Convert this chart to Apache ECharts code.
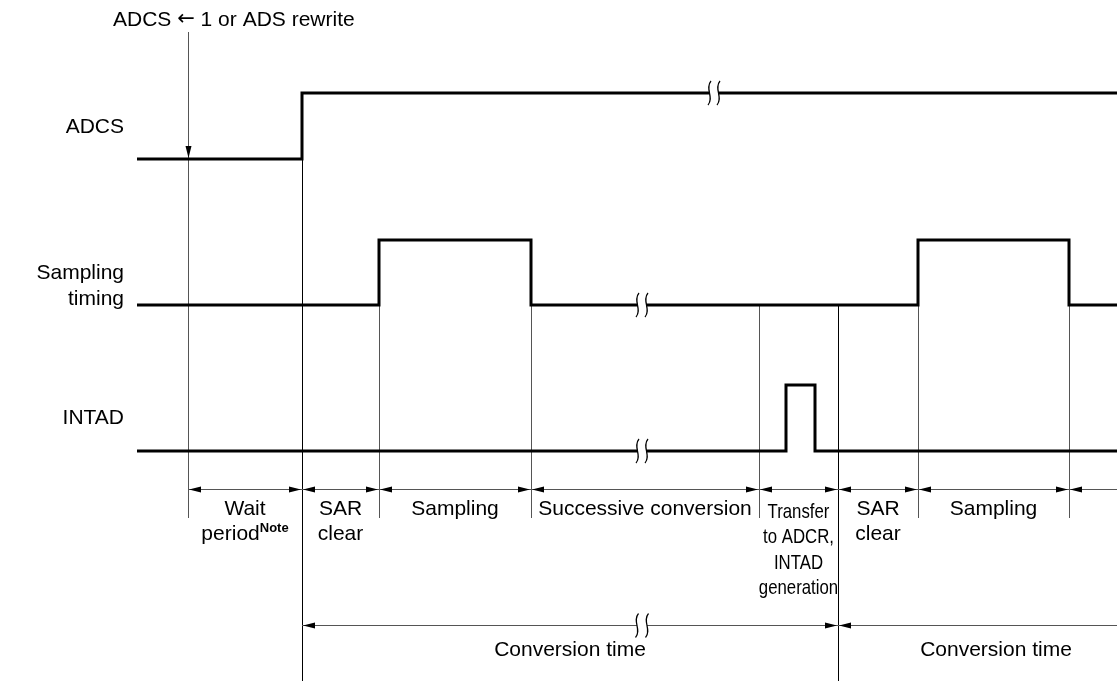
<!DOCTYPE html>
<html>
<head>
<meta charset="utf-8">
<script src="https://cdn.jsdelivr.net/npm/echarts@6/dist/echarts.min.js"></script>
<style>
html,body{margin:0;padding:0;background:#fff;}
#chart{width:1117px;height:681px;}
</style>
</head>
<body>
<div id="chart"></div>
<script>
// ---------------- data (time in arbitrary clock units) ----------------
const signalNames = ['ADCS', 'Sampling\ntiming', 'INTAD'];
const adcsTimes = [0, 16.5];
const adcsLevels = [0, 1];
const samplingTimes = [0, 24.2, 39.4, 78.1, 93.2];
const samplingLevels = [0, 1, 0, 1, 0];
const intadTimes = [0, 64.9, 67.8];
const intadLevels = [0, 1, 0];
const signalBreaks = [57.7, 50.5, 50.5];
const triggerTime = 5.1;
const triggerLabel = 'ADCS {arr|\u2190} 1 or ADS rewrite';
const phaseBounds = [5.1, 16.5, 24.2, 39.4, 62.2, 70.1, 78.1, 93.2, 101.7];
const phaseLabels = ['Wait\nperiod{sup|Note}', 'SAR\nclear', 'Sampling', 'Successive conversion',
  'Transfer\nto ADCR,\nINTAD\ngeneration', 'SAR\nclear', 'Sampling', ''];
const convBounds = [16.5, 70.1, 101.7];
const convLabels = ['Conversion time', 'Conversion time'];
const convBreak = 50.5;
const timeEnd = 98;

// ---------------- layout (pixels) ----------------
const L = {
  left: 137,
  fontFamily: '"Liberation Sans", Arial, Helvetica, sans-serif',
  fontSize: 21,
  rowLow: [159, 305, 451],
  rowAmp: [66, 65, 66],
  labelRightGap: 13,
  labelY: [127, 286, 418],
  triggerTop: 32, topLabelX: 113, topLabelY: 20,
  dimY: 489, dimBottom: 518, convY: 625, bottom: 681,
  phaseTextTop: 497, convTextY: 650, narrowScale: 0.8
};

const signals = [
  {times: adcsTimes, levels: adcsLevels},
  {times: samplingTimes, levels: samplingLevels},
  {times: intadTimes, levels: intadLevels}
];

function levelY(s, lv) { return L.rowLow[s] - lv * L.rowAmp[s]; }
function levelAt(s, t) {
  const sg = signals[s]; let lv = sg.levels[0];
  for (let i = 0; i < sg.times.length; i++) if (sg.times[i] <= t) lv = sg.levels[i];
  return lv;
}
function crisp(v) { return Math.round(v) + 0.5; }

function curve(x, cy, h) {
  return {type: 'bezierCurve',
    shape: {x1: x + 1.5, y1: cy - h, cpx1: x - 5, cpy1: cy - h * 0.35, cpx2: x + 5, cpy2: cy + h * 0.35, x2: x - 1.5, y2: cy + h},
    style: {stroke: '#000', lineWidth: 1.2, fill: 'none'}};
}
function breakMark(cx, cy, gap, h) {
  return [
    {type: 'rect', shape: {x: cx - gap / 2, y: cy - 3, width: gap, height: 6}, style: {fill: '#fff'}},
    curve(cx - gap / 2, cy, h), curve(cx + gap / 2, cy, h)
  ];
}
function arrowHead(tipX, y, dir) { // dir -1 points left, +1 points right
  const len = 12, hw = 3;
  return {type: 'polygon', shape: {points: [[tipX, y], [tipX - dir * len, y - hw], [tipX - dir * len, y + hw]]},
    style: {fill: '#000'}};
}

// extension line times
const extTimes = [];
phaseBounds.concat(convBounds).forEach(t => { if (t <= timeEnd && extTimes.indexOf(t) < 0) extTimes.push(t); });

// dimension segments
const dimSegs = [];
for (let i = 0; i < phaseLabels.length; i++) dimSegs.push({a: phaseBounds[i], b: phaseBounds[i + 1], text: phaseLabels[i], kind: 'phase'});
for (let i = 0; i < convLabels.length; i++) dimSegs.push({a: convBounds[i], b: convBounds[i + 1], text: convLabels[i], kind: 'conv'});

const chart = echarts.init(document.getElementById('chart'), null, {renderer: 'canvas'});

const option = {
  animation: false,
  grid: {left: L.left, right: 0, top: 0, bottom: 0, show: false},
  xAxis: {type: 'value', min: 0, max: timeEnd, show: false},
  yAxis: {type: 'value', min: 0, max: 681, inverse: true, show: false},
  series: [
    { // extension / boundary lines
      type: 'custom', z: 1, silent: true,
      data: extTimes.map(t => [t, 0]),
      renderItem(params, api) {
        const t = extTimes[params.dataIndex];
        const isConv = convBounds.indexOf(t) >= 0;
        let top = L.rowLow[1];
        for (let s = 0; s < signals.length; s++) {
          if (signals[s].times.indexOf(t) > 0) { top = L.rowLow[s]; break; }
        }
        if (t === triggerTime) top = L.triggerTop;
        const bot = isConv ? L.bottom : L.dimBottom;
        const p1 = api.coord([t, top]), p2 = api.coord([t, bot]);
        const x = crisp(p1[0]);
        const children = [{type: 'line', shape: {x1: x, y1: p1[1], x2: x, y2: p2[1]},
          style: {stroke: isConv ? '#000' : '#555', lineWidth: 1}}];
        if (t === triggerTime) {
          const tip = api.coord([t, L.rowLow[0] - 1]);
          children.push({type: 'polygon', shape: {points: [[x, tip[1]], [x - 3, tip[1] - 12], [x + 3, tip[1] - 12]]}, style: {fill: '#000'}});
          const lp = api.coord([t, L.topLabelY]);
          children.push({type: 'text', style: {text: triggerLabel, x: L.topLabelX, y: lp[1], align: 'left', verticalAlign: 'middle',
            fontSize: L.fontSize, fontFamily: L.fontFamily, fill: '#000',
            rich: {arr: {fontSize: 21, fontFamily: '"DejaVu Sans", sans-serif', fill: '#000'}}}});
        }
        return {type: 'group', children};
      }
    },
    { // dimension arrows and phase labels
      type: 'custom', z: 2, silent: true,
      data: dimSegs.map(d => [d.a, 0]),
      renderItem(params, api) {
        const d = dimSegs[params.dataIndex];
        const yv = d.kind === 'phase' ? L.dimY : L.convY;
        const pa = api.coord([d.a, yv]);
        const pb = api.coord([Math.min(d.b, timeEnd), yv]);
        const y = crisp(pa[1]);
        const children = [{type: 'line', shape: {x1: pa[0], y1: y, x2: pb[0], y2: y}, style: {stroke: '#555', lineWidth: 1}}];
        children.push(arrowHead(pa[0] + 1, y, -1));
        if (d.b <= timeEnd) children.push(arrowHead(pb[0] - 1, y, 1));
        const mid = api.coord([(d.a + d.b) / 2, yv]);
        if (d.kind === 'conv') {
          if (convBreak > d.a && convBreak < d.b) {
            const bp = api.coord([convBreak, yv]);
            breakMark(bp[0], y, 10, 12).forEach(c => children.push(c));
          }
          children.push({type: 'text', style: {text: d.text, x: mid[0], y: L.convTextY, align: 'center', verticalAlign: 'middle',
            fontSize: L.fontSize, fontFamily: L.fontFamily, fill: '#000'}});
        } else if (d.text) {
          const lines = d.text.split('\n').length;
          const narrow = lines > 2;
          if (narrow) {
            children.push({type: 'text', x: mid[0], y: L.phaseTextTop + 2, scaleX: L.narrowScale,
              style: {text: d.text, x: 0, y: 0, align: 'center', verticalAlign: 'top',
                fontSize: L.fontSize, fontFamily: L.fontFamily, lineHeight: 25.5, fill: '#000'}});
          } else {
            children.push({type: 'text', style: {text: d.text, x: mid[0], y: L.phaseTextTop,
              align: 'center', verticalAlign: 'top',
              fontSize: L.fontSize, fontFamily: L.fontFamily, lineHeight: 25, fill: '#000',
              rich: {sup: {fontSize: 13, fontWeight: 'bold', fontFamily: L.fontFamily, verticalAlign: 'top', lineHeight: 25, fill: '#000'}}}});
          }
        }
        return {type: 'group', children};
      }
    },
    { // signal waveforms
      type: 'custom', z: 3, silent: true,
      data: signals.map((s, i) => [0, i]),
      renderItem(params, api) {
        const s = params.dataIndex;
        const sg = signals[s];
        const pts = [];
        for (let i = 0; i < sg.times.length; i++) {
          if (i > 0) pts.push(api.coord([sg.times[i], levelY(s, sg.levels[i - 1])]));
          pts.push(api.coord([sg.times[i], levelY(s, sg.levels[i])]));
        }
        pts.push(api.coord([timeEnd, levelY(s, sg.levels[sg.levels.length - 1])]));
        const children = [{type: 'polyline', shape: {points: pts}, style: {stroke: '#000', lineWidth: 3, fill: 'none', lineJoin: 'miter'}}];
        const bt = signalBreaks[s];
        const bp = api.coord([bt, levelY(s, levelAt(s, bt))]);
        breakMark(bp[0], bp[1], 9, 12).forEach(c => children.push(c));
        const lp = api.coord([0, L.labelY[s]]);
        children.push({type: 'text', style: {text: signalNames[s], x: lp[0] - L.labelRightGap, y: lp[1], align: 'right', verticalAlign: 'middle',
          fontSize: L.fontSize, fontFamily: L.fontFamily, lineHeight: 26, fill: '#000'}});
        return {type: 'group', children};
      }
    }
  ]
};
chart.setOption(option);
</script>
</body>
</html>
